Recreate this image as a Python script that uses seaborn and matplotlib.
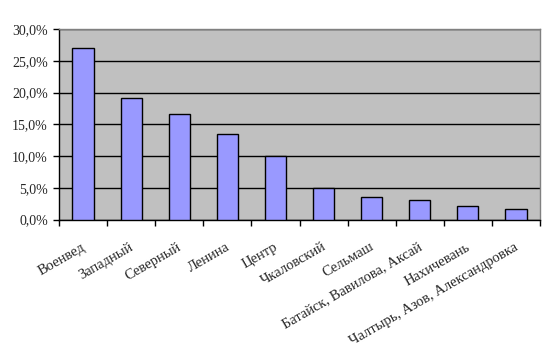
import matplotlib
matplotlib.use("Agg")
import matplotlib.pyplot as plt
import matplotlib.transforms as mtransforms
import seaborn as sns
import pandas as pd
import numpy as np
from matplotlib.ticker import FuncFormatter, FixedLocator

categories = ["Военвед", "Западный", "Северный", "Ленина", "Центр", "Чкаловский",
              "Сельмаш", "Батайск, Вавилова, Аксай", "Нахичевань",
              "Чалтырь, Азов, Александровка"]
values = [27.0, 19.1, 16.6, 13.4, 10.0, 4.9, 3.5, 3.0, 2.2, 1.7]
yticks = [0, 5, 10, 15, 20, 25, 30]

sns.set_style("white")
plt.rcParams['font.family'] = ['Liberation Serif', 'DejaVu Serif']

df = pd.DataFrame({"cat": categories, "val": values})

fig = plt.figure(figsize=(5.58, 3.56), dpi=100)
ax = fig.add_axes([59/558, 1 - 219.5/356, (540-59)/558, (219.5-29)/356])
ax.set_facecolor("#C0C0C0")
sns.barplot(data=df, x="cat", y="val", ax=ax, color="#9999FF", saturation=1,
            width=0.44, edgecolor="black", linewidth=1, zorder=3)
ax.set_ylim(0, 30)
ax.set_xlim(-0.5, len(categories) - 0.5)
ax.set_yticks(yticks)
ax.yaxis.set_major_formatter(FuncFormatter(lambda v, p: f"{v:.1f}%".replace(".", ",")))
ax.grid(axis="y", color="black", linewidth=1, zorder=1)
ax.set_axisbelow(True)
ax.set_xlabel("")
ax.set_ylabel("")

ax.xaxis.set_minor_locator(FixedLocator(np.arange(-0.5, len(categories), 1.0)))
ax.tick_params(axis="x", which="major", length=0, pad=15)
ax.tick_params(axis="x", which="minor", length=4, width=1, color="black", direction="out", bottom=True)
ax.tick_params(axis="y", length=4, width=1, color="black", direction="out", left=True, labelsize=10, pad=4)
ax.set_xticks(range(len(categories)))
ax.set_xticklabels(categories, rotation=30, ha="right", rotation_mode="anchor", fontsize=10.5)
shift = mtransforms.ScaledTranslation(-2/100, 0, fig.dpi_scale_trans)
for lab in ax.get_xticklabels():
    lab.set_transform(lab.get_transform() + shift)

for s in ["left", "bottom"]:
    ax.spines[s].set_color("black")
    ax.spines[s].set_linewidth(1)
for s in ["top", "right"]:
    ax.spines[s].set_visible(True)
    ax.spines[s].set_color("#808080")
    ax.spines[s].set_linewidth(1)

fig.savefig("out.png", dpi=100)
